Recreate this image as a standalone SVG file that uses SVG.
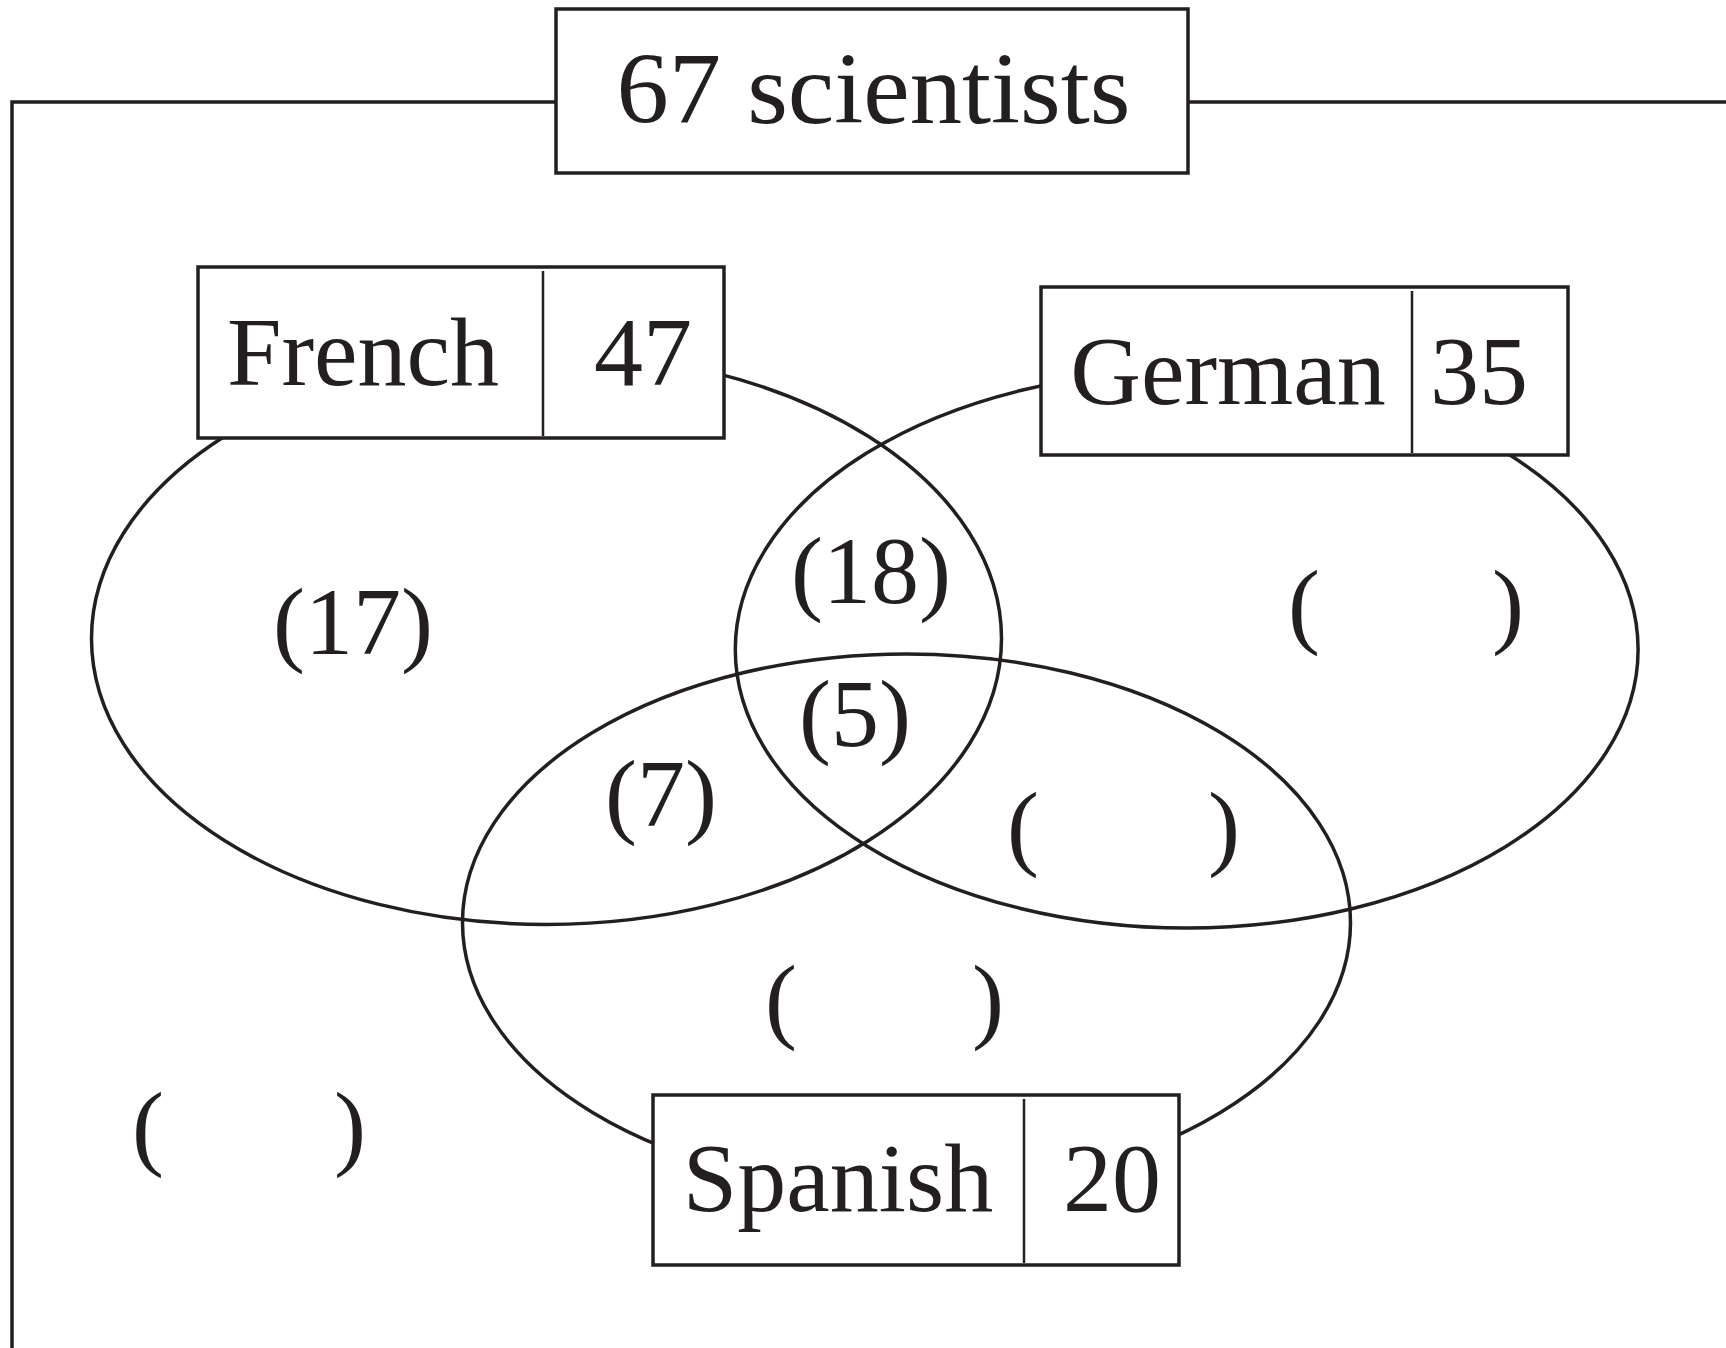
<svg xmlns="http://www.w3.org/2000/svg" width="1726" height="1348" viewBox="0 0 1726 1348">
<style>
.t{font-family:"Liberation Serif","Times New Roman",serif;fill:#231f20}
.lbl{font-size:98px}
.reg{font-size:96px}
.box{fill:#fff;stroke:#231f20;stroke-width:3.5}
.div{stroke:#231f20;stroke-width:2.5}
.ell{fill:none;stroke:#231f20;stroke-width:3.5}
</style>
<g id="frame">
<polyline points="12,1348 12,102 1726,102" fill="none" stroke="#231f20" stroke-width="3.5"/>
</g>
<g id="connectors">
<ellipse id="ell-french" class="ell" cx="546.5" cy="638.5" rx="455" ry="286"/>
<ellipse id="ell-german" class="ell" cx="1186.7" cy="649.5" rx="451.4" ry="278.5"/>
<ellipse id="ell-spanish" class="ell" cx="906.5" cy="922.5" rx="444" ry="268.6"/>
</g>
<g id="title">
<rect class="box" x="556" y="9" width="632" height="164"/>
<text class="t" x="873.5" y="123" font-size="102" text-anchor="middle" textLength="514" lengthAdjust="spacingAndGlyphs">67 scientists</text>
</g>
<g id="french">
<rect class="box" x="198" y="267" width="526" height="171"/>
<line class="div" x1="543" y1="271" x2="543" y2="436"/>
<text class="t lbl" x="363" y="385" text-anchor="middle">French</text>
<text class="t lbl" x="643" y="385" text-anchor="middle">47</text>
</g>
<g id="german">
<rect class="box" x="1041" y="287" width="527" height="168"/>
<line class="div" x1="1412" y1="291" x2="1412" y2="453"/>
<text class="t lbl" x="1228" y="404" text-anchor="middle">German</text>
<text class="t lbl" x="1479" y="404" text-anchor="middle">35</text>
</g>
<g id="spanish">
<rect class="box" x="653" y="1095" width="526" height="170"/>
<line class="div" x1="1024" y1="1099" x2="1024" y2="1263"/>
<text class="t lbl" x="838" y="1211" text-anchor="middle">Spanish</text>
<text class="t lbl" x="1112" y="1211" text-anchor="middle">20</text>
</g>
<g id="regions">
<text class="t reg" x="353" y="654" text-anchor="middle">(17)</text>
<text class="t reg" x="871" y="603" text-anchor="middle">(18)</text>
<text class="t reg" x="855" y="746" text-anchor="middle">(5)</text>
<text class="t reg" x="661" y="826" text-anchor="middle">(7)</text>
<text class="t reg" x="1288" y="636">(</text>
<text class="t reg" x="1524" y="636" text-anchor="end">)</text>
<text class="t reg" x="1007" y="858">(</text>
<text class="t reg" x="1240" y="858" text-anchor="end">)</text>
<text class="t reg" x="765" y="1031">(</text>
<text class="t reg" x="1004" y="1031" text-anchor="end">)</text>
<text class="t reg" x="132" y="1158">(</text>
<text class="t reg" x="366" y="1158" text-anchor="end">)</text>
</g>
</svg>
